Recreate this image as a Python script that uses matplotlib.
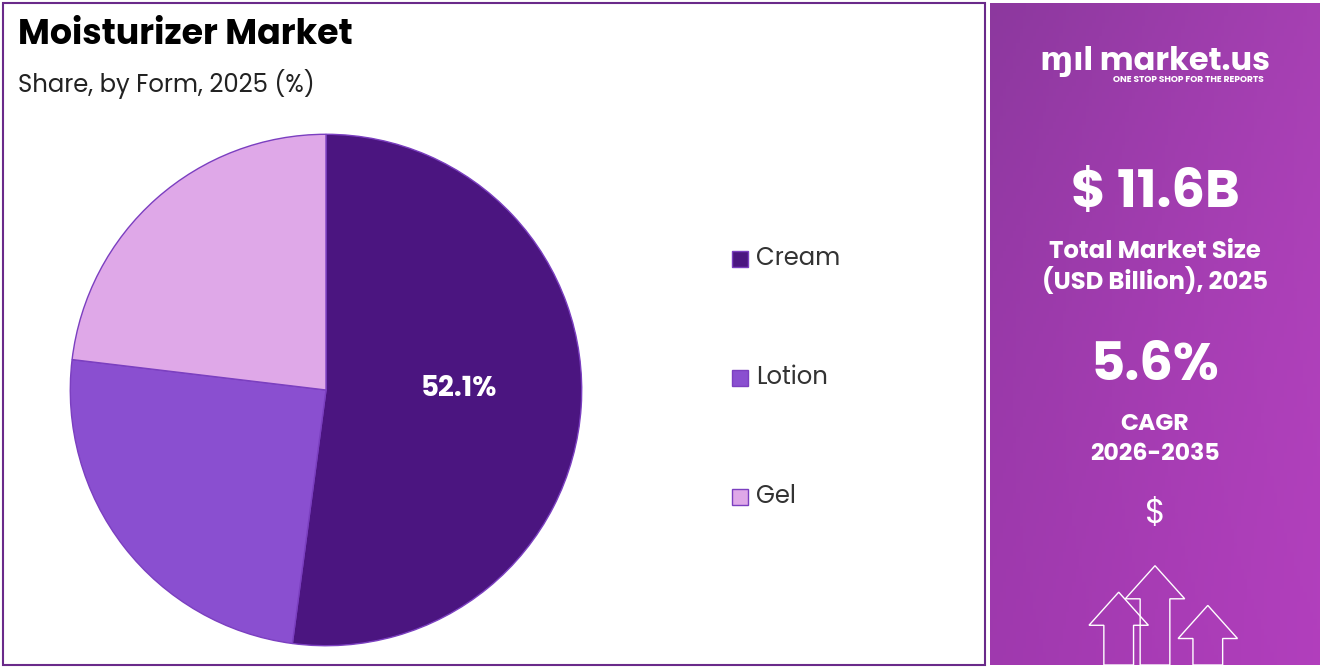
import matplotlib
matplotlib.use("Agg")
import matplotlib.pyplot as plt
import numpy as np
from matplotlib.patches import Rectangle, FancyArrow

categories = ["Cream", "Lotion", "Gel"]
shares = [52.1, 24.8, 23.1]
colors = ["#4b1580", "#8a4fd0", "#dfa8e8"]

W, H = 1323, 670
fig = plt.figure(figsize=(W/100, H/100), dpi=100)
fig.patch.set_facecolor("white")
plt.rcParams['font.family'] = ['Poppins', 'Open Sans', 'DejaVu Sans']

def fx(x): return x / W
def fy(y): return 1 - y / H

fig.patches.append(Rectangle((fx(3), fy(665)), fx(985)-fx(3), fy(3)-fy(665), transform=fig.transFigure,
                             fill=False, edgecolor="#6a2a8a", lw=1.5))

rax = fig.add_axes([fx(990), fy(665), fx(1320)-fx(990), fy(3)-fy(665)])
yy, xx = np.mgrid[0:1:200j, 0:1:100j]
c1 = np.array([0.55, 0.22, 0.62]); c2 = np.array([0.80, 0.30, 0.82]); c3 = np.array([0.45, 0.12, 0.55])
t = (0.6*yy + 0.4*xx)
img = c1[None, None, :]*(1-t[..., None]) + c2[None, None, :]*t[..., None]
img = img*(1-0.3*yy[..., None]) + c3*0.3*yy[..., None]
rax.imshow(img, extent=[0, 1, 0, 1], aspect="auto", origin="upper")
rax.set_xlim(0, 1); rax.set_ylim(0, 1); rax.axis("off")
def rt(y, s, size, weight="bold"):
    rax.text(0.5, 1 - (y-3)/662, s, ha="center", va="center", color="white", fontsize=size, fontweight=weight)
rax.text(0.5, 1-(62-3)/662, "ɱıl market.us", ha="center", va="center", color="white", fontsize=23, fontweight="bold")
rax.text(0.6, 1-(80-3)/662, "ONE STOP SHOP FOR THE REPORTS", ha="center", va="center", color="white", fontsize=6.5, fontweight="bold")
rt(195, "$ 11.6B", 38)
rt(252, "Total Market Size", 17.5)
rt(282, "(USD Billion), 2025", 17.5)
rt(368, "5.6%", 38)
rt(425, "CAGR", 17)
rt(455, "2026-2035", 17)
rt(515, "$", 24, "normal")
for (x0, y0, h) in [(0.39, 0.0, 0.06), (0.5, 0.0, 0.10), (0.66, 0.0, 0.04)]:
    rax.add_patch(FancyArrow(x0, y0, 0, h, width=0.09, head_width=0.18, head_length=0.05,
                             fill=False, edgecolor="white", lw=1, length_includes_head=False))

fig.text(fx(18), fy(35), "Moisturizer Market", fontsize=25, fontweight="bold", va="center", color="black")
fig.text(fx(18), fy(84), "Share, by Form, 2025 (%)", fontsize=17.5, va="center", color="#222222")

cx, cy, r = 326, 390, 257
ax = fig.add_axes([fx(cx - r), fy(cy + r), 2*r/W, 2*r/H])
wedges, _ = ax.pie(shares, colors=colors, startangle=90, counterclock=False,
                   wedgeprops=dict(edgecolor="#7b3fc0", linewidth=1))
ax.set_xlim(-1.005, 1.005); ax.set_ylim(-1.005, 1.005)
ax.set_aspect("equal")
ax.text(0.52, 0.0, f"{shares[0]}%", color="white", fontsize=20, fontweight="bold", ha="center", va="center")

for i, (c, col) in enumerate(zip(categories, colors)):
    y = 259 + i*119
    fig.patches.append(Rectangle((fx(732), fy(y+8)), 16/W, 16/H, transform=fig.transFigure,
                                 facecolor=col, edgecolor="#7b3fc0", lw=1))
    fig.text(fx(756), fy(y), c, fontsize=17.5, va="center", color="#333333")

fig.savefig("out.png", dpi=100)
